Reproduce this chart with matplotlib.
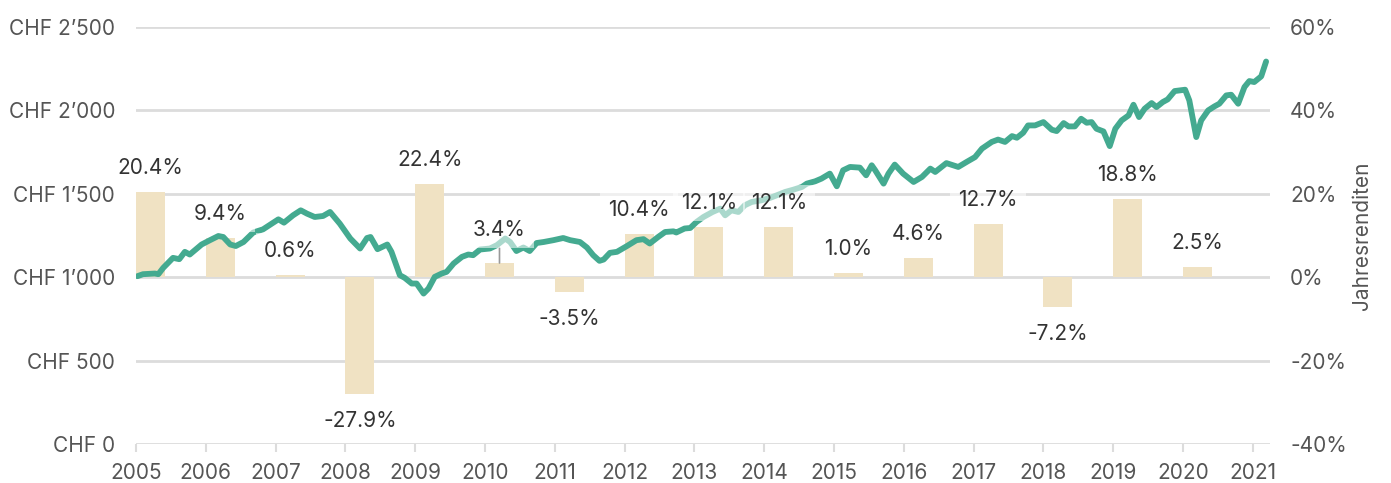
import matplotlib
matplotlib.use("Agg")
import matplotlib.pyplot as plt

plt.rcParams['font.family'] = ['Inter', 'DejaVu Sans']

# ---- data ----
years = list(range(2005, 2021))
returns = [20.4, 9.4, 0.6, -27.9, 22.4, 3.4, -3.5, 10.4, 12.1, 12.1, 1.0, 4.6, 12.7, -7.2, 18.8, 2.5]

t = [2005.02, 2005.10, 2005.27, 2005.32, 2005.39, 2005.53, 2005.62, 2005.70, 2005.77, 2005.94,
     2006.06, 2006.18, 2006.25, 2006.35, 2006.43, 2006.54, 2006.68, 2006.82,
     2007.04, 2007.12, 2007.25, 2007.36, 2007.45, 2007.56, 2007.68, 2007.78, 2007.92,
     2008.07, 2008.21, 2008.31, 2008.36, 2008.46, 2008.60, 2008.66, 2008.78, 2008.85, 2008.95,
     2009.02, 2009.12, 2009.19, 2009.28, 2009.38, 2009.45, 2009.55, 2009.67, 2009.76, 2009.83, 2009.93,
     2010.07, 2010.17, 2010.29, 2010.36, 2010.45, 2010.55, 2010.64, 2010.74, 2010.84, 2010.98,
     2011.12, 2011.22, 2011.36, 2011.46, 2011.55, 2011.64, 2011.70, 2011.79, 2011.89,
     2012.03, 2012.17, 2012.27, 2012.36, 2012.48, 2012.58, 2012.70, 2012.74, 2012.86, 2012.94,
     2013.03, 2013.13, 2013.26, 2013.37, 2013.44, 2013.53, 2013.63, 2013.72, 2013.82, 2013.96,
     2014.08, 2014.18, 2014.30, 2014.42, 2014.54, 2014.61, 2014.73, 2014.82, 2014.94,
     2015.04, 2015.13, 2015.23, 2015.37, 2015.46, 2015.54, 2015.59, 2015.71, 2015.78, 2015.87, 2015.99,
     2016.14, 2016.26, 2016.38, 2016.45, 2016.61, 2016.78, 2016.90,
     2017.02, 2017.12, 2017.26, 2017.35, 2017.45, 2017.55, 2017.62, 2017.71, 2017.78, 2017.88,
     2018.00, 2018.12, 2018.19, 2018.29, 2018.36, 2018.45, 2018.54, 2018.62, 2018.69, 2018.76, 2018.86, 2018.95,
     2019.03, 2019.12, 2019.22, 2019.29, 2019.37, 2019.45, 2019.55, 2019.62, 2019.71, 2019.78, 2019.88,
     2020.03, 2020.09, 2020.19, 2020.26, 2020.36, 2020.45, 2020.52, 2020.62, 2020.69, 2020.79, 2020.88, 2020.95,
     2021.02, 2021.12, 2021.19]
chf = [1006, 1018, 1022, 1018, 1056, 1116, 1108, 1152, 1136, 1196,
       1222, 1247, 1241, 1196, 1187, 1211, 1268, 1287,
       1347, 1327, 1371, 1401, 1381, 1361, 1367, 1391, 1321,
       1232, 1172, 1235, 1241, 1168, 1196, 1152, 1012, 996, 962,
       962, 902, 932, 1002, 1022, 1032, 1082, 1122, 1136, 1132, 1166,
       1172, 1192, 1232, 1211, 1157, 1178, 1157, 1205, 1211, 1222,
       1235, 1222, 1211, 1178, 1132, 1098, 1106, 1146, 1152,
       1186, 1222, 1228, 1202, 1241, 1271, 1275, 1268, 1292, 1295,
       1331, 1361, 1391, 1411, 1371, 1401, 1391, 1431, 1451, 1461,
       1475, 1491, 1511, 1525, 1541, 1561, 1575, 1591, 1621,
       1545, 1641, 1661, 1657, 1611, 1671, 1641, 1561, 1621, 1675, 1621,
       1571, 1601, 1651, 1631, 1684, 1661, 1691,
       1720, 1771, 1811, 1825, 1811, 1846, 1836, 1866, 1910, 1910,
       1930, 1884, 1876, 1924, 1904, 1904, 1950, 1926, 1930, 1890, 1874, 1786,
       1890, 1940, 1970, 2034, 1960, 2010, 2044, 2020, 2050, 2066, 2116,
       2124, 2060, 1840, 1940, 2000, 2024, 2040, 2090, 2094, 2040, 2140, 2176,
       2170, 2204, 2293]

chf_ticks = [0, 500, 1000, 1500, 2000, 2500]
chf_labels = ["CHF 0", "CHF 500", "CHF 1\u2019000", "CHF 1\u2019500", "CHF 2\u2019000", "CHF 2\u2019500"]
pct_ticks = [-40, -20, 0, 20, 40, 60]
pct_labels = ["-40%", "-20%", "0%", "20%", "40%", "60%"]
year_ticks = list(range(2005, 2022))
right_label = "Jahresrenditen"

# ---- style ----
LINE_C = '#44AA90'
BAR_C = '#F0E2C3'
GRID_C = '#DCDCDC'
TICK_C = '#555555'
LABEL_C = '#333333'
FS = 15
BAR_W = 0.415

W, H = 1391, 483
fig = plt.figure(figsize=(W / 100, H / 100), dpi=100)
L, R, T, B = 136, 1270, 27, 444
ax = fig.add_axes([L / W, 1 - B / H, (R - L) / W, (B - T) / H])
ax2 = ax.twinx()

# bars (percent) on primary axis, ticks on right
ax.bar(years, returns, width=BAR_W, align='edge', color=BAR_C, zorder=2, linewidth=0)
ax.set_ylim(-40, 60)
ax.set_xlim(2005, 2021.246)
ax.yaxis.tick_right()
ax.yaxis.set_label_position('right')
ax.set_yticks(pct_ticks)
ax.set_yticklabels(pct_labels)
ax.set_ylabel(right_label, fontsize=FS, color=TICK_C, labelpad=4)
ax.grid(axis='y', color=GRID_C, linewidth=2, zorder=0)
ax.set_axisbelow(True)
ax.set_xticks(year_ticks)
ax.set_xticklabels([str(y) for y in year_ticks])
ax.tick_params(axis='x', length=6, width=1.5, color=GRID_C, labelsize=FS, labelcolor=TICK_C, pad=8)
ax.tick_params(axis='y', length=0, labelsize=FS, labelcolor=TICK_C, pad=14.4)

# line (CHF) on twin axis, ticks on left
ax2.plot(t, chf, color=LINE_C, linewidth=4.2, solid_joinstyle='round', solid_capstyle='round', zorder=3)
ax2.set_ylim(0, 2500)
ax2.yaxis.tick_left()
ax2.set_yticks(chf_ticks)
ax2.set_yticklabels(chf_labels)
ax2.tick_params(axis='y', length=0, labelsize=FS, labelcolor=TICK_C, pad=15)

for a in (ax, ax2):
    for s in a.spines.values():
        s.set_visible(False)

# value labels
box = dict(boxstyle='square,pad=0.38', fc='white', ec='none', alpha=0.55)
for y, r in zip(years, returns):
    xc = y + BAR_W / 2
    txt = f"{r:.1f}%"
    if y == 2010:
        ax2.annotate(txt, xy=(xc, r), xycoords=ax.transData, xytext=(0, 33), textcoords='offset pixels',
                     ha='center', va='center', fontsize=FS, color=LABEL_C, zorder=5, bbox=box,
                     arrowprops=dict(arrowstyle='-', color='#999999', lw=1.2, shrinkA=0, shrinkB=0))
    else:
        off = 24 if r >= 0 else -27
        ax2.annotate(txt, xy=(xc, r), xycoords=ax.transData, xytext=(0, off), textcoords='offset pixels',
                     ha='center', va='center', fontsize=FS, color=LABEL_C, zorder=5, bbox=box)

fig.savefig('out.png', dpi=100)
